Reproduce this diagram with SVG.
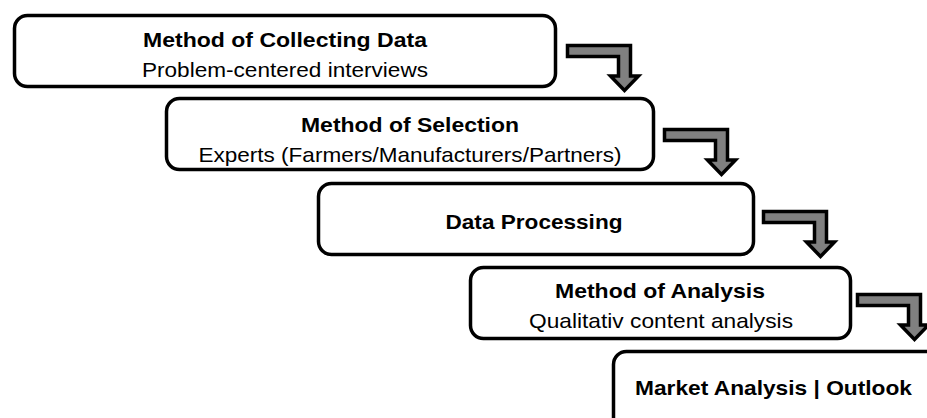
<svg xmlns="http://www.w3.org/2000/svg" width="927" height="418" viewBox="0 0 927 418">
  <defs>
    <style>
      .box { fill: #ffffff; stroke: #000000; stroke-width: 3.5; }
      .step { fill: #808080; stroke: #000000; stroke-width: 3.5; stroke-linejoin: miter; }
      .title { font-family: "Liberation Sans", Arial, sans-serif; font-size: 21px; font-weight: bold; fill: #000000; text-anchor: middle; }
      .sub { font-family: "Liberation Sans", Arial, sans-serif; font-size: 21px; fill: #000000; text-anchor: middle; }
    </style>
    <!-- bent step arrow, drawn at the first step position -->
    <path id="bend" d="M567.5,45.5 H630.5 V76 H638.5 L624.5,90.5 L610.5,76 H618.5 V56.5 H567.5 Z"/>
  </defs>

  <rect width="927" height="418" fill="#ffffff"/>

  <g id="connectors">
    <use href="#bend" class="step"/>
    <use href="#bend" class="step" transform="translate(97,84)"/>
    <use href="#bend" class="step" transform="translate(196,166)"/>
    <use href="#bend" class="step" transform="translate(290,249)"/>
  </g>

  <g id="collecting">
    <rect class="box" x="14.5" y="15.5" width="541" height="71" rx="13"/>
    <text class="title" x="285" y="47" textLength="284" lengthAdjust="spacingAndGlyphs">Method of Collecting Data</text>
    <text class="sub" x="285" y="77" textLength="286" lengthAdjust="spacingAndGlyphs">Problem-centered interviews</text>
  </g>

  <g id="selection">
    <rect class="box" x="166.5" y="98.5" width="487" height="71" rx="13"/>
    <text class="title" x="410" y="132" textLength="218" lengthAdjust="spacingAndGlyphs">Method of Selection</text>
    <text class="sub" x="410" y="162" textLength="423" lengthAdjust="spacingAndGlyphs">Experts (Farmers/Manufacturers/Partners)</text>
  </g>

  <g id="processing">
    <rect class="box" x="318.5" y="183.5" width="435" height="71" rx="13"/>
    <text class="title" x="534" y="229" textLength="177" lengthAdjust="spacingAndGlyphs">Data Processing</text>
  </g>

  <g id="analysis">
    <rect class="box" x="470.5" y="267.5" width="380" height="71" rx="13"/>
    <text class="title" x="660" y="298" textLength="210" lengthAdjust="spacingAndGlyphs">Method of Analysis</text>
    <text class="sub" x="661" y="328" textLength="264" lengthAdjust="spacingAndGlyphs">Qualitativ content analysis</text>
  </g>

  <g id="outlook">
    <rect class="box" x="613.5" y="351.5" width="340" height="90" rx="13"/>
    <text class="title" x="773.5" y="395" textLength="277" lengthAdjust="spacingAndGlyphs">Market Analysis | Outlook</text>
  </g>
</svg>
